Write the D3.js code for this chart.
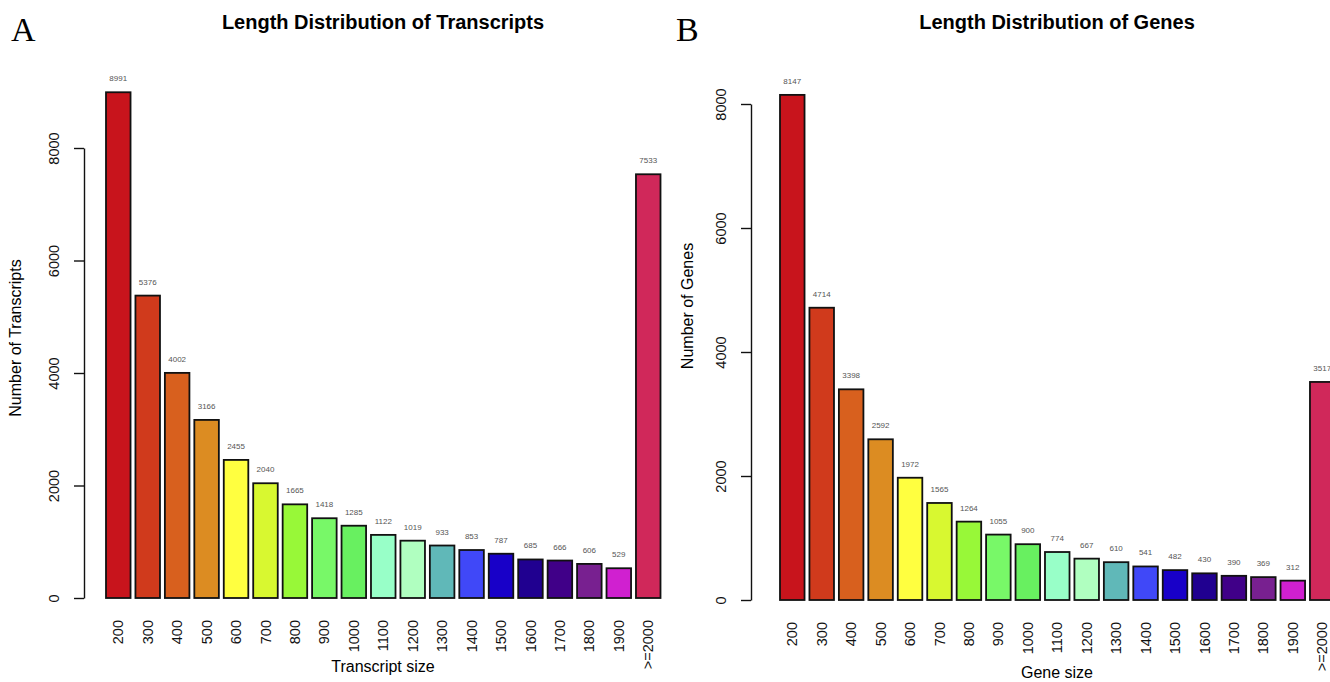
<!DOCTYPE html>
<html lang="en">
<head>
  <meta charset="UTF-8">
  <title>Length Distribution of Transcripts and Genes</title>
  <style>
    body { margin: 0; background: #fff; }
    svg { display: block; font-family: 'Liberation Sans', Arial, Helvetica, sans-serif; }
    .panel-letter { font-family: 'Liberation Serif', 'Times New Roman', serif; font-size: 34px; }
    .title { font-size: 20px; font-weight: bold; }
    .axis-title { font-size: 16px; }
    .value-label { font-size: 8px; fill: #555; }
  </style>
  <script src="https://d3js.org/d3.v7.min.js"></script>
</head>
<body>
  <svg width="1330" height="682"></svg>

  <script>
    // size classes shared by both panels
    const sizeLabels = ["200", "300", "400", "500", "600", "700", "800", "900", "1000", "1100",
      "1200", "1300", "1400", "1500", "1600", "1700", "1800", "1900", ">=2000"];

    const transcriptCounts = [8991, 5376, 4002, 3166, 2455, 2040, 1665, 1418, 1285, 1122,
      1019, 933, 853, 787, 685, 666, 606, 529, 7533];

    const geneCounts = [8147, 4714, 3398, 2592, 1972, 1565, 1264, 1055, 900, 774,
      667, 610, 541, 482, 430, 390, 369, 312, 3517];

    const barColors = ["#c8141c", "#d03a1c", "#d8601e", "#dc8c22", "#ffff40", "#d8f830",
      "#98f838", "#78f868", "#68f060", "#98ffc8", "#b0ffc0", "#60b8b8", "#4048f8",
      "#1800c8", "#200090", "#400088", "#782090", "#d020d0", "#d0285a"];

    const yTicks = [0, 2000, 4000, 6000, 8000];

    const svg = d3.select("svg");

    function drawPanel(opts) {
      const g = svg.append("g");

      const x = d3.scaleBand()
        .domain(sizeLabels)
        .range([opts.left, opts.right])
        .paddingInner(1 / 6)
        .paddingOuter(0);

      const y = d3.scaleLinear()
        .domain([0, 8000])
        .range([opts.bottom, opts.top]);

      const data = sizeLabels.map((s, i) => ({ size: s, value: opts.values[i], color: barColors[i] }));

      // bars
      g.selectAll("rect.bar")
        .data(data)
        .join("rect")
        .attr("class", "bar")
        .attr("x", d => x(d.size))
        .attr("width", x.bandwidth())
        .attr("y", d => y(d.value))
        .attr("height", d => y(0) - y(d.value))
        .attr("fill", d => d.color)
        .attr("stroke", "#111")
        .attr("stroke-width", 1.8);

      // counts above bars
      g.selectAll("text.value-label")
        .data(data)
        .join("text")
        .attr("class", "value-label")
        .attr("x", d => x(d.size) + x.bandwidth() / 2)
        .attr("y", d => y(d.value) - 11)
        .attr("text-anchor", "middle")
        .text(d => d.value);

      // y axis, R style with rotated labels
      const yAxis = g.append("g")
        .attr("transform", `translate(${opts.axisX},0)`)
        .call(d3.axisLeft(y).tickValues(yTicks).tickSize(10).tickSizeOuter(0).tickFormat(d3.format("d")));
      yAxis.selectAll("path, line").attr("stroke", "#111").attr("stroke-width", 1.4);
      yAxis.selectAll("text")
        .attr("transform", "rotate(-90)")
        .attr("x", 0)
        .attr("y", -30)
        .attr("dy", "0.35em")
        .attr("text-anchor", "middle")
        .attr("fill", "#111")
        .style("font-size", "14.5px")
        .style("font-family", "'Liberation Sans', Arial, sans-serif");

      // x tick labels, vertical
      g.selectAll("text.x-label")
        .data(sizeLabels)
        .join("text")
        .attr("class", "x-label")
        .attr("transform", d => `translate(${x(d) + x.bandwidth() / 2},${opts.bottom + 22}) rotate(-90)`)
        .attr("dy", "0.35em")
        .attr("text-anchor", "end")
        .style("font-size", "14.5px")
        .attr("fill", "#111")
        .text(d => d);

      // titles
      g.append("text")
        .attr("class", "title")
        .attr("x", opts.titleX)
        .attr("y", 29)
        .attr("text-anchor", "middle")
        .text(opts.title);

      g.append("text")
        .attr("class", "axis-title")
        .attr("x", opts.titleX)
        .attr("y", opts.xTitleY)
        .attr("text-anchor", "middle")
        .text(opts.xTitle);

      g.append("text")
        .attr("class", "axis-title")
        .attr("transform", `translate(${opts.yTitleX},${opts.yTitleY}) rotate(-90)`)
        .attr("dy", "0.35em")
        .attr("text-anchor", "middle")
        .text(opts.yTitle);

      g.append("text")
        .attr("class", "panel-letter")
        .attr("x", opts.letterX)
        .attr("y", 41)
        .text(opts.letter);
    }

    drawPanel({
      letter: "A", letterX: 11,
      title: "Length Distribution of Transcripts", titleX: 383,
      xTitle: "Transcript size", xTitleY: 672,
      yTitle: "Number of Transcripts", yTitleX: 15, yTitleY: 338,
      values: transcriptCounts,
      left: 106, right: 660.5, top: 148, bottom: 598, axisX: 84
    });

    drawPanel({
      letter: "B", letterX: 676,
      title: "Length Distribution of Genes", titleX: 1057,
      xTitle: "Gene size", xTitleY: 678,
      yTitle: "Number of Genes", yTitleX: 687, yTitleY: 306,
      values: geneCounts,
      left: 780, right: 1334.5, top: 104, bottom: 600, axisX: 751
    });
  </script>
</body>
</html>
